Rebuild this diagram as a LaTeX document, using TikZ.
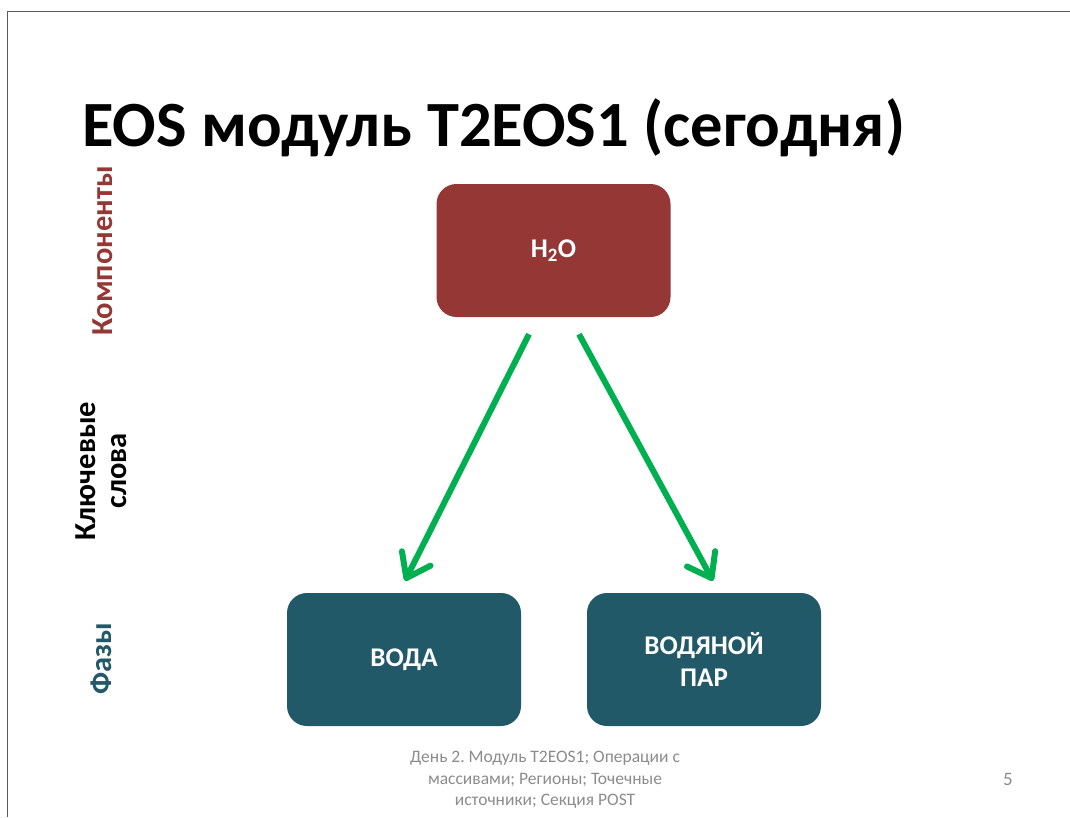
\documentclass[tikz,border=0pt]{standalone}
\usepackage{fontspec}
\setmainfont{Carlito}
\usetikzlibrary{arrows.meta,calc}
\definecolor{compred}{HTML}{953735}
\definecolor{phaseteal}{HTML}{215968}
\definecolor{flowgreen}{HTML}{00B050}
\definecolor{footgray}{HTML}{8C8C8C}
\definecolor{framegray}{HTML}{5A5A5A}
\frenchspacing
\begin{document}
\begin{tikzpicture}[x=1pt,y=-1pt,
  box/.style={rounded corners=20pt, minimum width=234pt, minimum height=133pt,
    text=white, font=\fontsize{27}{32}\selectfont\bfseries, align=center, inner sep=0pt},
  comp/.style={box, fill=compred},
  phase/.style={box, fill=phaseteal},
  flow/.style={draw=flowgreen, line width=6pt,
    -{Straight Barb[length=22pt,width=32pt,line cap=round,line join=round]}},
  side/.style={rotate=90, font=\fontsize{30.5}{31}\selectfont\bfseries, align=center, inner sep=0pt},
  foot/.style={text=footgray, font=\fontsize{17.5}{21.5}\selectfont, align=center, inner sep=0pt}]
\useasboundingbox (0,0) rectangle (1070,817);
\fill[white] (0,0) rectangle (1070,817);
% slide frame
\draw[framegray, line width=1.5pt] (7.5,817) -- (7.5,11.5) -- (1070,11.5);

% title
\node[anchor=base west, inner sep=0pt, font=\fontsize{64.5}{70}\selectfont\bfseries]
  (title) at (82,146) {EOS модуль T2EOS1 (сегодня)};

% row labels
\node[side, text=compred] (lcomp) at (103,251) {Компоненты};
\node[side, text=black] (lkey) at (101,471) {Ключевые\\слова};
\node[side, text=phaseteal] (lphase) at (101,659) {Фазы};

% component and phases
\node[comp] (h2o) at (553.5,250.5) {H\textsubscript{2}O};
\node[phase] (voda) at (404,659.5) {ВОДА};
\node[phase] (par) at (704,659.5) {ВОДЯНОЙ\\ПАР};

% phase arrows
\draw[flow] ($(h2o.south)+(-24.5,17)$) -- ($(voda.north)+(1,-12)$);
\draw[flow] ($(h2o.south)+(25.5,17)$) -- ($(par.north)+(9,-12)$);

% footer
\node[foot] (footer) at (545,780) {День 2. Модуль T2EOS1; Операции с\\массивами; Регионы; Точечные\\источники; Секция POST};
\node[text=footgray, font=\fontsize{19}{21}\selectfont, anchor=base, inner sep=0pt] (pagenum) at (1008,785) {5};
\end{tikzpicture}
\end{document}
